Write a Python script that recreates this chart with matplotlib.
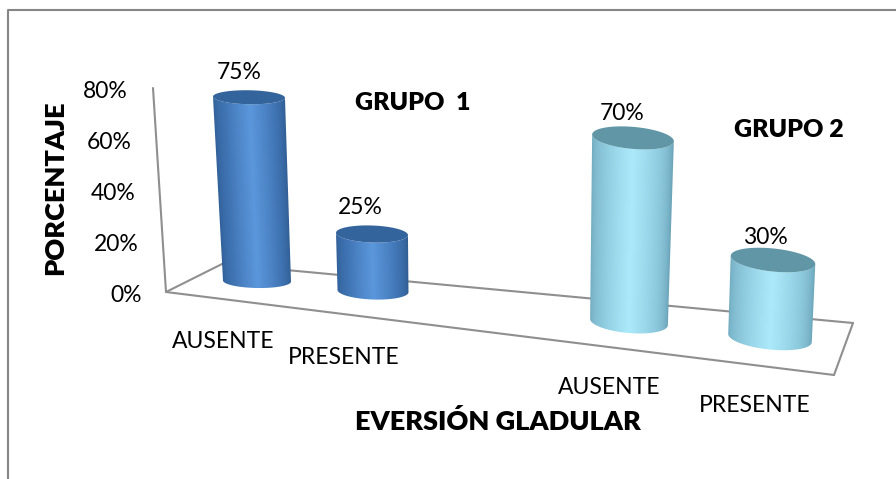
import numpy as np
import matplotlib
matplotlib.use("Agg")
import matplotlib.pyplot as plt
from matplotlib.colors import LinearSegmentedColormap
from matplotlib.patches import Polygon

plt.rcParams['font.family'] = ['Lato', 'DejaVu Sans']

# ---- data ----
categories = ["AUSENTE", "PRESENTE", "AUSENTE", "PRESENTE"]
values = [75, 25, 70, 30]
value_ticks = [0, 20, 40, 60, 80]
groups = ["GRUPO  1", "GRUPO 2"]
x_title = "EVERSIÓN GLADULAR"
y_title = "PORCENTAJE"

# ---- layout: perspective projection of the 3-D scene (pixels) ----
W, H = 896, 479
base_centers = [(257, 281), (373, 291), (629, 322), (770, 338)]
px_per_pct = [2.45, 2.28, 2.63, 2.60]
lean_per_pct = [-0.107, -0.04, 0.057, 0.10]
base_a = [34, 35.5, 39, 42]
top_a = [36, 36, 41, 42.5]
ell_b = [7, 8.5, 11, 11.5]
ell_tilt = [1, 2, 5, 6]
label_offset = [(-10, -25), (-12, -27), (-11, -24), (-8, -23)]
label_pos = [(223, 341), (344, 357), (609, 388), (755, 406)]
group_pos = [(413, 103), (789, 130)]
group_palette = [
    (["#2f5e96", "#3f73b2", "#5b97dc", "#3f73b2", "#2c5688"], "#34649c"),
    (["#6ea7bc", "#8cc8dc", "#aceafb", "#8cc8dc", "#649cb2"], "#6096a6"),
]
bar_group = [0, 0, 1, 1]
BOLD = 800


def ell_pt(c, a, b, tilt, theta):
    t = np.deg2rad(tilt)
    x, y = a * np.cos(theta), b * np.sin(theta)
    return c[0] + x * np.cos(t) - y * np.sin(t), c[1] + x * np.sin(t) + y * np.cos(t)


fig = plt.figure(figsize=(W / 100, H / 100), dpi=100, facecolor="white")
ax = fig.add_axes([0, 0, 1, 1])
ax.set_axis_off()

# chart border: only the top and left edges fall inside the picture
ax.plot([8, 8, W], [H, 10, 10], color="#868686", lw=1.5, zorder=1)


# axis and floor
def gl(xs, ys, z=2):
    ax.plot(xs, ys, color="#8f8f8f", lw=1.5, zorder=z, solid_capstyle="round")


gl([153, 166], [88, 292])
gl([166, 222], [292, 264])
gl([222, 853], [264, 323])
gl([853, 834], [323, 375])
gl([166, 834], [292, 375])

# value ticks
for v in value_ticks:
    ax.text(142 - v * 0.175, 295 - v * 2.54, f"{v}%", ha="right", va="center", fontsize=16.5, color="black")

# cylinders
for i, v in enumerate(values):
    colors, top_col = group_palette[bar_group[i]]
    cmap = LinearSegmentedColormap.from_list("c", colors)
    bc = base_centers[i]
    tc = (bc[0] + v * lean_per_pct[i], bc[1] - v * px_per_pct[i])
    th = np.linspace(np.pi, 0, 100)
    bx, by = ell_pt(bc, base_a[i], ell_b[i], ell_tilt[i], th)
    tx, ty = ell_pt(tc, top_a[i], ell_b[i], ell_tilt[i], th)
    outline = np.column_stack([np.r_[tx, bx[::-1]], np.r_[ty, by[::-1]]])
    x0, x1 = outline[:, 0].min() - 1, outline[:, 0].max() + 1
    y0, y1 = outline[:, 1].min() - 1, outline[:, 1].max() + 1
    xs = np.linspace(x0, x1, 300)
    ys = np.linspace(y0, y1, 300)
    XX, YY = np.meshgrid(xs, ys)
    f = (YY - tc[1]) / (bc[1] - tc[1])
    cx = tc[0] + f * (bc[0] - tc[0])
    half = top_a[i] + f * (base_a[i] - top_a[i])
    s = np.clip((XX - cx) / half, -1, 1)
    shade = np.arccos(-s) / np.pi
    body = Polygon(outline, closed=True, transform=ax.transData, fc="none", ec="none")
    ax.add_patch(body)
    im = ax.imshow(shade, cmap=cmap, vmin=0, vmax=1, extent=(x0, x1, y1, y0), origin="upper",
                   aspect="auto", zorder=5, interpolation="bilinear")
    im.set_clip_path(body)
    full = np.linspace(0, 2 * np.pi, 120)
    ex, ey = ell_pt(tc, top_a[i], ell_b[i], ell_tilt[i], full)
    ax.add_patch(Polygon(np.column_stack([ex, ey]), closed=True, fc=top_col, ec="none", zorder=6))
    dx, dy = label_offset[i]
    ax.text(tc[0] + dx, tc[1] + dy, f"{v}%", ha="center", va="center", fontsize=16.5, color="black", zorder=7)

# category labels
for (x, y), c in zip(label_pos, categories):
    ax.text(x, y, c, ha="center", va="center", fontsize=16.5, color="black")

# group labels and titles
for (x, y), g in zip(group_pos, groups):
    ax.text(x, y, g, ha="center", va="center", fontsize=18, fontweight=BOLD, color="black")
ax.text(498, 422, x_title, ha="center", va="center", fontsize=19.5, fontweight=BOLD, color="black")
ax.text(55, 188, y_title, ha="center", va="center", rotation=90, fontsize=19.5, fontweight=BOLD, color="black")

ax.set_xlim(0, W)
ax.set_ylim(H, 0)
fig.savefig("out.png", dpi=100, facecolor="white")
